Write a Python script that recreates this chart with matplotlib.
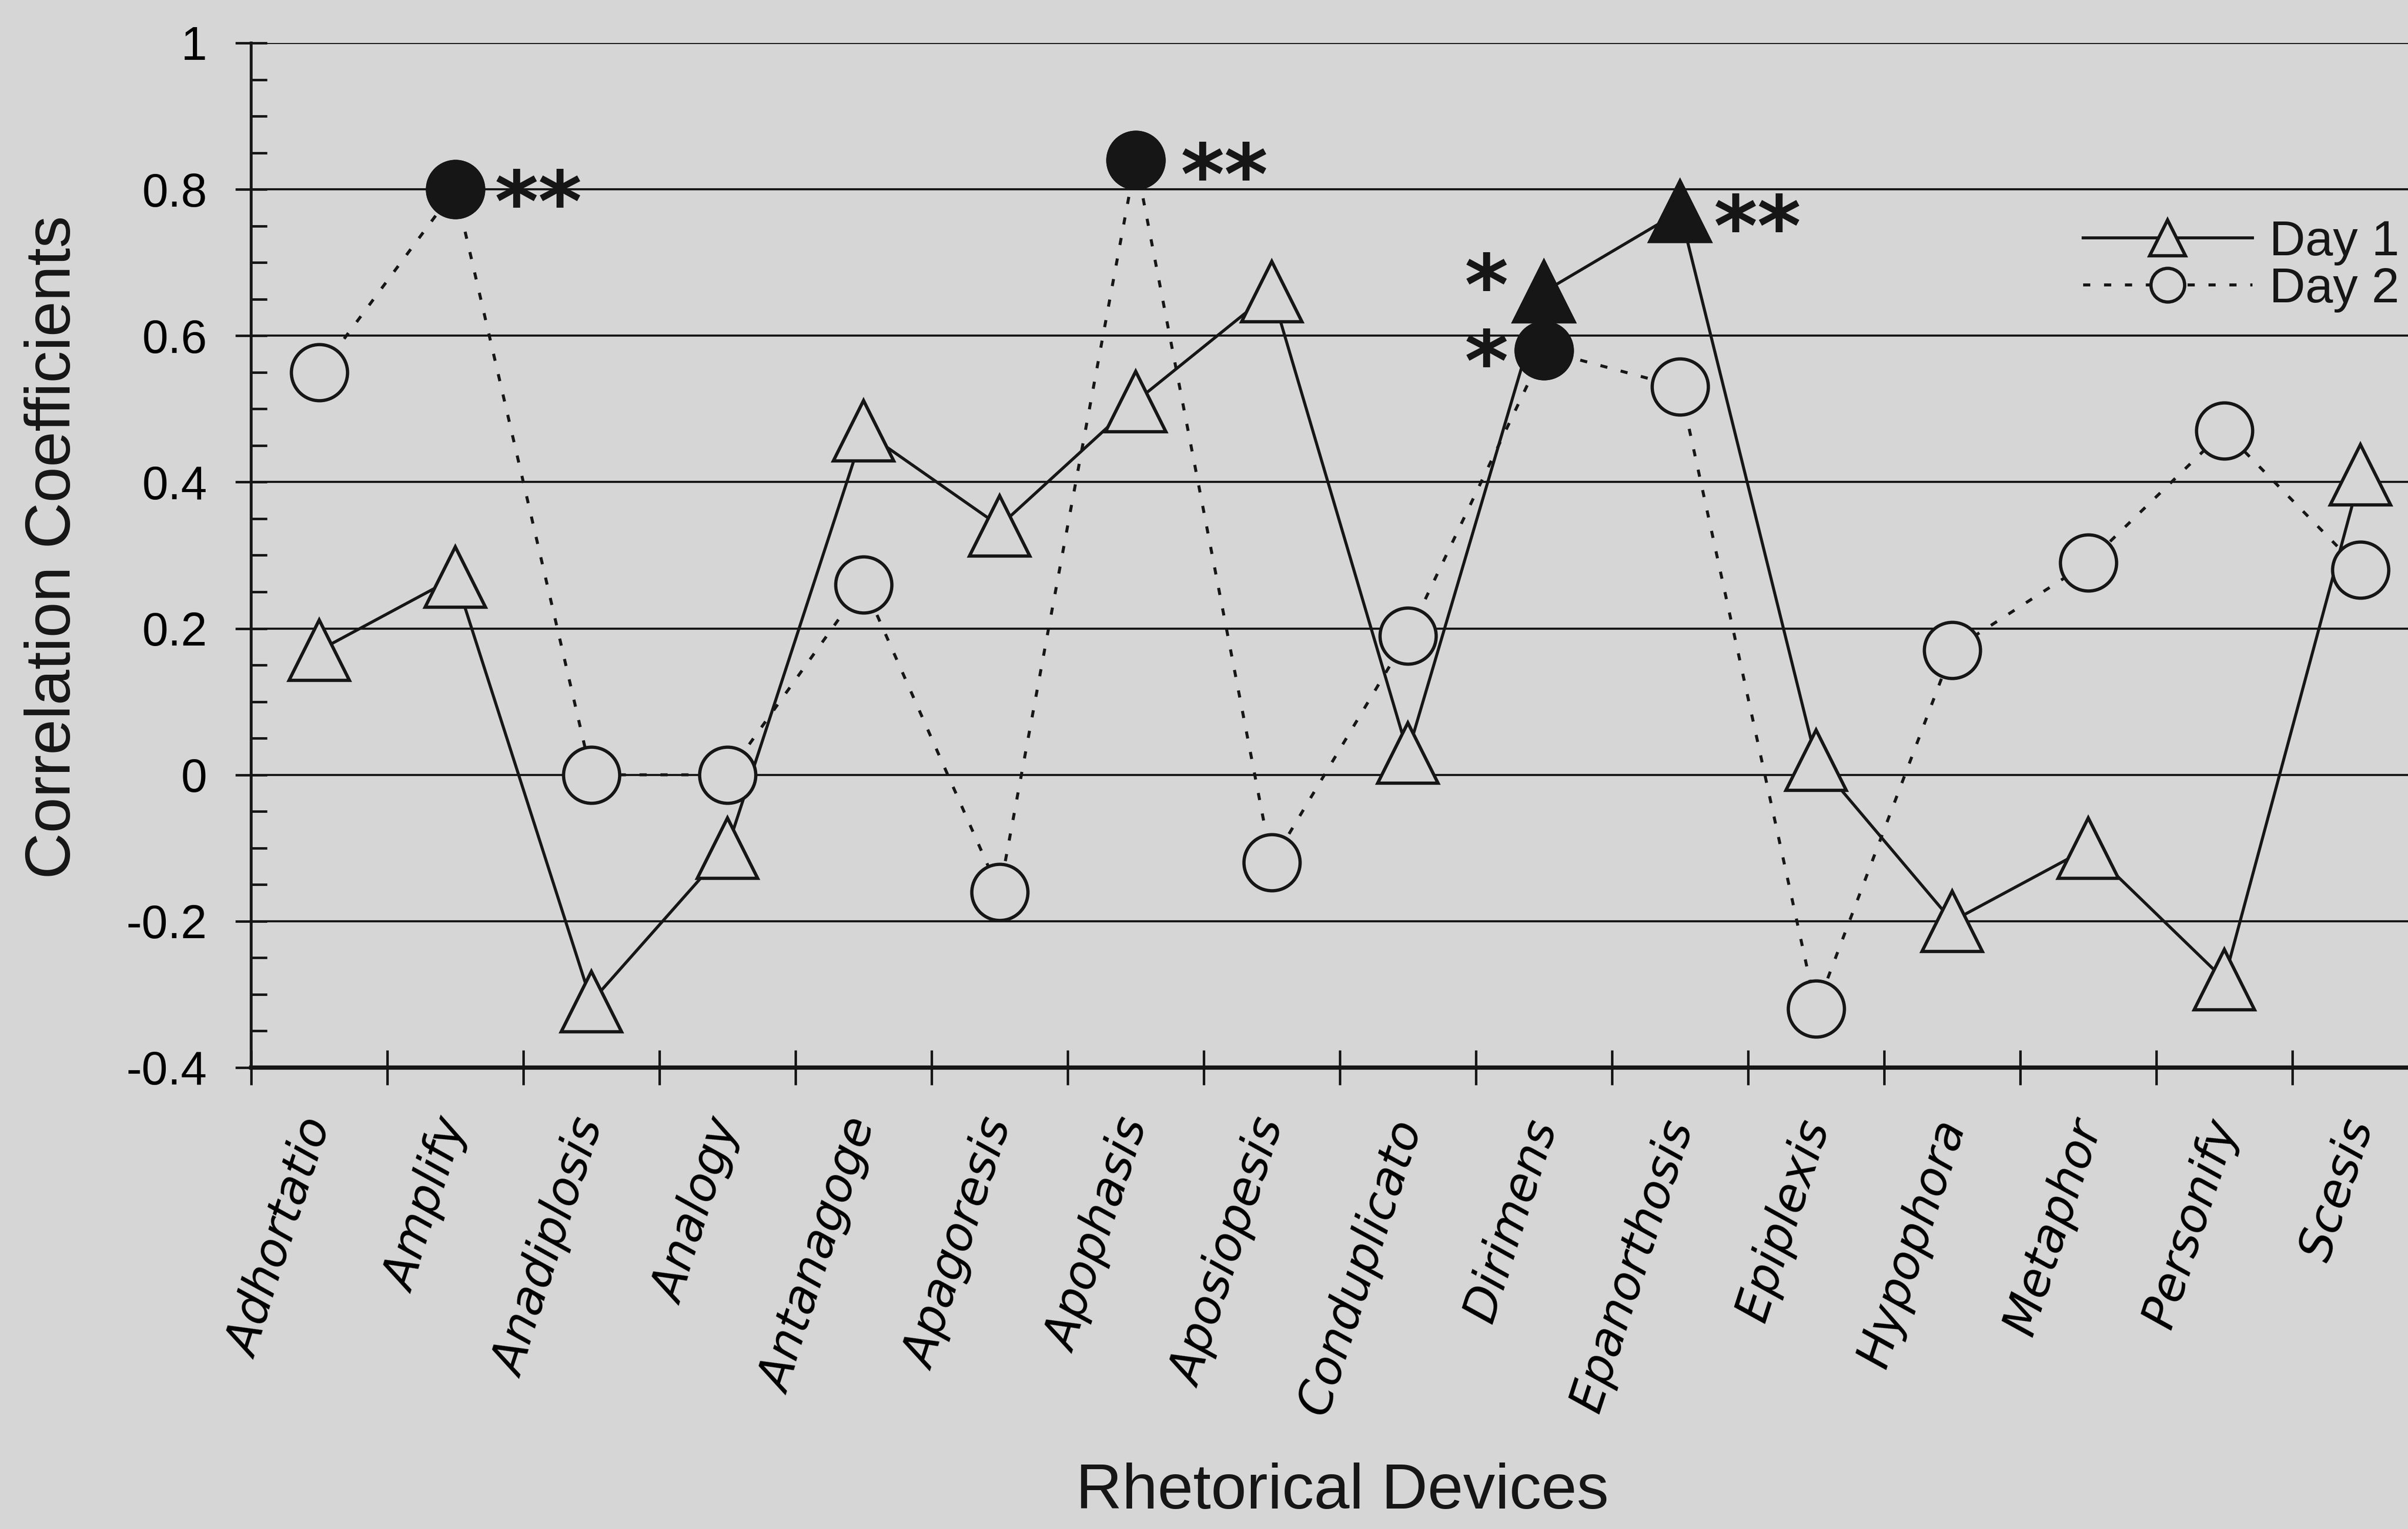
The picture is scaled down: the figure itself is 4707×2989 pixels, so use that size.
import numpy as np
import matplotlib.pyplot as plt
from matplotlib.ticker import MultipleLocator, FixedLocator, NullFormatter, FuncFormatter

# values
categories = ['Adhortatio', 'Amplify', 'Anadiplosis', 'Analogy', 'Antanagoge',
              'Apagoresis', 'Apophasis', 'Aposiopesis', 'Conduplicato', 'Dirimens',
              'Epanorthosis', 'Epiplexis', 'Hypophora', 'Metaphor', 'Personify', 'Scesis']
day1 = [0.17, 0.27, -0.31, -0.10, 0.47, 0.34, 0.51, 0.66, 0.03, 0.66,
        0.77, 0.02, -0.20, -0.10, -0.28, 0.41]
day2 = [0.55, 0.80, 0.00, 0.00, 0.26, -0.16, 0.84, -0.12, 0.19, 0.58,
        0.53, -0.32, 0.17, 0.29, 0.47, 0.28]
# significant points (filled markers) and their stars
day1_sig = [9, 10]
day2_sig = [1, 6, 9]
day1_stars = ['*', '**']
day2_stars = ['**', '**', '*']

BG = '#d6d6d6'
INK = '#161616'

plt.rcParams['font.family'] = ['Liberation Sans', 'DejaVu Sans']
plt.rcParams['axes.unicode_minus'] = False
plt.rcParams['text.color'] = INK

fig = plt.figure(figsize=(47.07, 29.89), dpi=100, facecolor=BG)
ax = fig.add_axes([0.1043, 0.3018, 0.9042, 0.6701], facecolor=BG)

x = np.arange(len(categories)) + 0.5
d1 = np.array(day1)
d2 = np.array(day2)

l1, = ax.plot(x, d1, color=INK, lw=4.2, marker='^', ms=85, mfc=BG, mec=INK,
              mew=4.6, label='Day 1', zorder=3)
l2, = ax.plot(x, d2, color=INK, lw=4.2, ls=(0, (2.4, 4.6)), marker='o', ms=79,
              mfc=BG, mec=INK, mew=4.6, label='Day 2', zorder=4)
ax.plot(x[day1_sig], d1[day1_sig], ls='none', marker='^', ms=85, mfc=INK,
        mec=INK, mew=4.6, zorder=5)
ax.plot(x[day2_sig], d2[day2_sig], ls='none', marker='o', ms=79, mfc=INK,
        mec=INK, mew=4.6, zorder=5)

# stars: '**' sit to the right of the marker; where both days are
# significant the two single stars are stacked to the left
star_kw = dict(textcoords='offset points', fontsize=118, fontweight='bold',
               family='DejaVu Sans', zorder=6)
right_dx = {1: 55, 6: 63, 10: 47}
right_dy = {1: -26, 6: -29, 10: -30}
both = set(day1_sig) & set(day2_sig)
for idx, s in zip(day1_sig, day1_stars):
    if idx not in both:
        ax.annotate(s, (x[idx], d1[idx]), xytext=(right_dx[idx], right_dy[idx]),
                    ha='left', va='center', **star_kw)
for idx, s in zip(day2_sig, day2_stars):
    if idx not in both:
        ax.annotate(s, (x[idx], d2[idx]), xytext=(right_dx[idx], right_dy[idx]),
                    ha='left', va='center', **star_kw)
for idx in both:
    s1 = day1_stars[day1_sig.index(idx)]
    s2 = day2_stars[day2_sig.index(idx)]
    top, bottom = (s1, s2) if d1[idx] >= d2[idx] else (s2, s1)
    ax.annotate(top + '\n' + bottom, (x[idx], (d1[idx] + d2[idx]) / 2),
                xytext=(-81, -12), ha='center', va='center', multialignment='center',
                linespacing=0.92, **star_kw)

ax.set_xlim(0, 16)
ax.set_ylim(-0.4, 1.0)

ax.xaxis.set_major_locator(FixedLocator(np.arange(17)))
ax.xaxis.set_major_formatter(NullFormatter())
ax.set_xticks(x, minor=True)
ax.set_xticklabels(categories, minor=True, rotation=72, ha='right', va='center',
                   rotation_mode='anchor', fontstyle='italic', family='DejaVu Sans',
                   fontsize=66)
ax.tick_params(axis='x', which='major', direction='inout', length=49, width=3.5, color=INK)
ax.tick_params(axis='x', which='minor', length=0, pad=75)

ax.yaxis.set_major_locator(MultipleLocator(0.2))
ax.yaxis.set_minor_locator(MultipleLocator(0.05))
ax.yaxis.set_major_formatter(FuncFormatter(lambda v, p: f'{v:g}' if abs(v) > 1e-9 else '0'))
ax.tick_params(axis='y', which='major', direction='inout', length=44, width=3.5,
               pad=40, labelsize=66, color=INK)
ax.tick_params(axis='y', which='minor', direction='in', length=22, width=3.5, color=INK)

ax.yaxis.grid(True, which='major', color=INK, lw=3)
ax.set_axisbelow(True)
for side in ['top', 'right']:
    ax.spines[side].set_visible(False)
ax.spines['left'].set_linewidth(4)
ax.spines['bottom'].set_linewidth(6)
ax.spines['left'].set_color(INK)
ax.spines['bottom'].set_color(INK)

ax.legend(handles=[l1, l2], loc='upper left', bbox_to_anchor=(4072 / 4707, 0.8565),
          bbox_transform=fig.transFigure, frameon=False, fontsize=70, markerscale=0.6,
          handlelength=3.4, handletextpad=0.34, labelspacing=0.02, borderpad=0,
          borderaxespad=0)

fig.text(0.0223, 0.642, 'Correlation Coefficients', rotation=90, ha='center',
         va='center', fontsize=90)
fig.text(0.5575, 0.024, 'Rhetorical Devices', ha='center', va='center', fontsize=90)

fig.savefig('out.png', dpi=100, facecolor=BG)
